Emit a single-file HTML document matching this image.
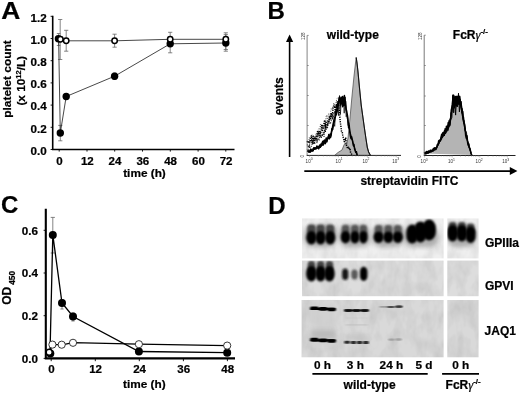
<!DOCTYPE html>
<html><head><meta charset="utf-8"><title>Figure</title>
<style>
html,body{margin:0;padding:0;background:#fff;}
body{width:520px;height:393px;overflow:hidden;font-family:"Liberation Sans",sans-serif;}
svg{display:block;filter:blur(0.32px)}
text{font-family:"Liberation Sans",sans-serif;font-weight:bold;fill:#000;stroke:#000;stroke-width:0.22px}
.pl{font-size:24px}
.tk{font-size:11px}
.ax{font-size:11.8px}
.lb{font-size:12px}
.tiny{font-size:5.3px;font-weight:normal;fill:#333;stroke:none}
</style></head><body>
<svg width="520" height="393" viewBox="0 0 520 393">
<defs>
<filter id="b1" x="-50%" y="-50%" width="200%" height="200%"><feGaussianBlur stdDeviation="1.3"/></filter>
<filter id="b2" x="-50%" y="-50%" width="200%" height="200%"><feGaussianBlur stdDeviation="2.2"/></filter>
<filter id="b0" x="-50%" y="-50%" width="200%" height="200%"><feGaussianBlur stdDeviation="0.7"/></filter>
<filter id="nz" x="0" y="0" width="100%" height="100%"><feTurbulence type="fractalNoise" baseFrequency="0.09 0.05" numOctaves="3" seed="4" result="t"/><feColorMatrix in="t" type="matrix" values="0 0 0 0 0  0 0 0 0 0  0 0 0 0 0  0.55 0.55 0 0 -0.42"/></filter>
<filter id="bt" x="-5%" y="-5%" width="110%" height="110%"><feGaussianBlur stdDeviation="0.35"/></filter>
</defs>
<rect width="520" height="393" fill="#fff"/>

<g id="A">
<text class="pl" transform="translate(1.2 18.8) scale(1.1 1)">A</text>
<path d="M60.2 19.5V59.5M58.1 19.5H62.3M58.1 59.5H62.3" stroke="#666" stroke-width="0.8" fill="none"/>
<path d="M58.6 33.5V45.5M56.8 33.5H60.4M56.8 45.5H60.4" stroke="#666" stroke-width="0.8" fill="none"/>
<path d="M66.2 30.3V51.2M64.1 30.3H68.3M64.1 51.2H68.3" stroke="#666" stroke-width="0.8" fill="none"/>
<path d="M114.6 34.2V47.2M112.5 34.2H116.7M112.5 47.2H116.7" stroke="#666" stroke-width="0.8" fill="none"/>
<path d="M170.2 32.3V52.8M168.1 32.3H172.3M168.1 52.8H172.3" stroke="#666" stroke-width="0.8" fill="none"/>
<path d="M225.8 32.8V51.2M223.7 32.8H227.9M223.7 51.2H227.9" stroke="#666" stroke-width="0.8" fill="none"/>
<path d="M225.8 34.6V49.5M223.7 34.6H227.9M223.7 49.5H227.9" stroke="#666" stroke-width="0.8" fill="none"/>
<path d="M60.3 125.4V140.8M58.2 125.4H62.4M58.2 140.8H62.4" stroke="#666" stroke-width="0.8" fill="none"/>
<path d="M114.6 73.0V79.5M112.8 73.0H116.4M112.8 79.5H116.4" stroke="#666" stroke-width="0.8" fill="none"/>
<path d="M58.6 38.8L60.3 133L66.2 96.5L114.6 76.2L170.2 43.8L225.8 43" stroke="#333" stroke-width="0.9" fill="none"/>
<path d="M60.2 39.2L66.2 40.8L114.6 40.8L170.2 39.3L225.8 39.3" stroke="#333" stroke-width="0.9" fill="none"/>
<circle cx="58.4" cy="38.8" r="3.7" fill="#000"/>
<circle cx="60.3" cy="133" r="3.7" fill="#000"/>
<circle cx="66.2" cy="96.5" r="3.7" fill="#000"/>
<circle cx="114.6" cy="76.2" r="3.7" fill="#000"/>
<circle cx="170.2" cy="43.8" r="3.7" fill="#000"/>
<circle cx="225.8" cy="43" r="3.7" fill="#000"/>
<circle cx="60.4" cy="39.2" r="2.7" fill="#fff" stroke="#000" stroke-width="1.5"/>
<circle cx="66.2" cy="40.8" r="2.7" fill="#fff" stroke="#000" stroke-width="1.5"/>
<circle cx="114.6" cy="40.8" r="2.7" fill="#fff" stroke="#000" stroke-width="1.5"/>
<circle cx="170.2" cy="39.2" r="2.7" fill="#fff" stroke="#000" stroke-width="1.5"/>
<circle cx="225.8" cy="39.2" r="2.7" fill="#fff" stroke="#000" stroke-width="1.5"/>
<path d="M52.7 15.8V150.2M51.9 149.5H234.5" stroke="#000" stroke-width="1.6" fill="none"/>
<path d="M50.6 149.5H52.5M50.6 127.3H52.5M50.6 105.1H52.5M50.6 82.9H52.5M50.6 60.7H52.5M50.6 38.5H52.5M50.6 16.3H52.5M59.2 149V151.6M87.0 149V151.6M114.7 149V151.6M142.5 149V151.6M170.3 149V151.6M198.1 149V151.6M225.8 149V151.6" stroke="#000" stroke-width="0.9" fill="none"/>
<text class="tk" transform="translate(46.7 154.8) scale(1.06 1)" text-anchor="end">0.0</text>
<text class="tk" transform="translate(46.7 132.6) scale(1.06 1)" text-anchor="end">0.2</text>
<text class="tk" transform="translate(46.7 110.4) scale(1.06 1)" text-anchor="end">0.4</text>
<text class="tk" transform="translate(46.7 88.2) scale(1.06 1)" text-anchor="end">0.6</text>
<text class="tk" transform="translate(46.7 66.0) scale(1.06 1)" text-anchor="end">0.8</text>
<text class="tk" transform="translate(46.7 43.8) scale(1.06 1)" text-anchor="end">1.0</text>
<text class="tk" transform="translate(46.7 21.6) scale(1.06 1)" text-anchor="end">1.2</text>
<text class="tk" transform="translate(59.5 165.3) scale(1.05 1)" text-anchor="middle">0</text>
<text class="tk" transform="translate(87.3 165.3) scale(1.05 1)" text-anchor="middle">12</text>
<text class="tk" transform="translate(115.0 165.3) scale(1.05 1)" text-anchor="middle">24</text>
<text class="tk" transform="translate(142.8 165.3) scale(1.05 1)" text-anchor="middle">36</text>
<text class="tk" transform="translate(170.6 165.3) scale(1.05 1)" text-anchor="middle">48</text>
<text class="tk" transform="translate(198.4 165.3) scale(1.05 1)" text-anchor="middle">60</text>
<text class="tk" transform="translate(226.1 165.3) scale(1.05 1)" text-anchor="middle">72</text>
<text class="ax" x="123.2" y="177.2">time (h)</text>
<text class="ax" transform="translate(11.2 117.8) rotate(-90)" textLength="77.5" lengthAdjust="spacingAndGlyphs">platelet count</text>
<text class="ax" transform="translate(25.2 105.6) rotate(-90)">(x 10<tspan font-size="7.5" dy="-4">12</tspan><tspan dy="4">/L)</tspan></text>
</g>
<g id="C">
<text class="pl" x="1" y="213.4">C</text>
<path d="M52.8 217.4V253.0M50.7 217.4H54.9M50.7 253.0H54.9" stroke="#666" stroke-width="0.8" fill="none"/>
<path d="M62.0 299.5V309.0M60.4 299.5H63.6M60.4 309.0H63.6" stroke="#666" stroke-width="0.8" fill="none"/>
<path d="M73.0 313.0V321.0M71.4 313.0H74.6M71.4 321.0H74.6" stroke="#666" stroke-width="0.8" fill="none"/>
<path d="M50 353.5L52.8 234.9L62 303L73 316.5L138.9 351.5L227.2 352.7" stroke="#000" stroke-width="1.3" fill="none"/>
<path d="M49.5 352L52.6 344.4L62 344.8L73 342.6L138.9 344.2L227.2 345.6" stroke="#000" stroke-width="1.3" fill="none"/>
<circle cx="50.3" cy="353.5" r="4" fill="#000"/>
<circle cx="52.8" cy="234.9" r="4" fill="#000"/>
<circle cx="62" cy="303" r="4" fill="#000"/>
<circle cx="73" cy="316.5" r="4" fill="#000"/>
<circle cx="138.9" cy="351.5" r="4" fill="#000"/>
<circle cx="227.2" cy="352.7" r="4" fill="#000"/>
<circle cx="49.2" cy="352.3" r="3.0" fill="#fff" stroke="#000" stroke-width="1.4"/>
<circle cx="52.4" cy="344.6" r="3.6" fill="#fff" stroke="#222" stroke-width="0.9"/>
<circle cx="61.7" cy="344.7" r="3.6" fill="#fff" stroke="#222" stroke-width="0.9"/>
<circle cx="73" cy="342.8" r="3.6" fill="#fff" stroke="#222" stroke-width="0.9"/>
<circle cx="138.9" cy="344.2" r="3.6" fill="#fff" stroke="#222" stroke-width="0.9"/>
<circle cx="227.2" cy="345.6" r="3.6" fill="#fff" stroke="#222" stroke-width="0.9"/>
<path d="M45.8 208.8V359.4M44.8 358.4H235" stroke="#000" stroke-width="2.1" fill="none"/>
<path d="M43.6 358.4H45.8M43.6 315.7H45.8M43.6 273.0H45.8M43.6 230.3H45.8M51.2 358.4V361.2M95.3 358.4V361.2M139.3 358.4V361.2M183.4 358.4V361.2M227.4 358.4V361.2" stroke="#000" stroke-width="0.9" fill="none"/>
<text class="tk" transform="translate(37.9 362.6) scale(1.06 1)" text-anchor="end">0.0</text>
<text class="tk" transform="translate(37.9 319.9) scale(1.06 1)" text-anchor="end">0.2</text>
<text class="tk" transform="translate(37.9 277.2) scale(1.06 1)" text-anchor="end">0.4</text>
<text class="tk" transform="translate(37.9 234.5) scale(1.06 1)" text-anchor="end">0.6</text>
<text class="tk" transform="translate(51.5 373.3) scale(1.05 1)" text-anchor="middle">0</text>
<text class="tk" transform="translate(95.6 373.3) scale(1.05 1)" text-anchor="middle">12</text>
<text class="tk" transform="translate(139.6 373.3) scale(1.05 1)" text-anchor="middle">24</text>
<text class="tk" transform="translate(183.7 373.3) scale(1.05 1)" text-anchor="middle">36</text>
<text class="tk" transform="translate(227.7 373.3) scale(1.05 1)" text-anchor="middle">48</text>
<text class="ax" x="123" y="388.4">time (h)</text>
<text class="lb" transform="translate(11 304.8) rotate(-90)">OD</text>
<text transform="translate(14.6 284.8) rotate(-90)" font-size="8.3">450</text>
</g>
<g id="B">
<text class="pl" x="267.5" y="18.8">B</text>
<text class="lb" x="326.8" y="38.5">wild-type</text>
<text class="lb" x="452.8" y="39">FcR<tspan font-family="Liberation Serif" font-style="italic" font-weight="normal" font-size="12.5">γ</tspan><tspan font-size="8" dy="-4.9">-/-</tspan></text>
<text class="lb" transform="translate(282.6 115.3) rotate(-90)">events</text>
<text class="lb" x="360.4" y="184.6">streptavidin FITC</text>
<path d="M289.6 157V40" stroke="#000" stroke-width="1.6"/><path d="M289.6 34.4L293.2 42H286L289.6 34.4Z" fill="#000"/>
<path d="M304.3 171.1H511" stroke="#000" stroke-width="1.6"/><path d="M517.4 171.1L509.8 175.1V167.1Z" fill="#000"/>
<path d="M334.6 155.4L338.0 152.5L342.0 150.0L344.0 145.0L345.2 143.0L346.5 145.5L348.0 138.0L350.0 118.0L352.0 96.0L354.0 76.0L355.4 64.0L356.2 57.5L357.0 63.0L358.0 72.0L359.5 88.0L361.2 105.0L363.0 118.0L364.4 128.0L366.0 139.0L367.3 147.3L368.6 152.0L370.5 155.4Z" fill="#b4b4b4" stroke="#444" stroke-width="0.7"/>
<path d="M356.2 57.5L357 63L358 72L359.5 88L361.2 105L363 118L364.4 128L366 139L367.3 147.3L368.6 152L370.5 155.4" fill="none" stroke="#111" stroke-width="1.1"/>
<path d="M307.2 141.0L307.9 142.8L308.6 141.0L309.3 142.3L310.0 142.0L310.7 136.9L311.4 135.8L312.1 142.6L312.8 136.9L313.5 136.2L314.2 142.8L314.9 137.3L315.6 140.0L316.3 135.5L317.0 136.2L317.7 130.4L318.4 134.4L319.1 135.9L319.8 131.6L320.5 133.0L321.2 131.4L321.9 124.5L322.6 130.4L323.3 127.7L324.0 123.7L324.7 120.0L325.4 127.3L326.1 122.3L326.8 123.6L327.5 124.1L328.2 121.4L328.9 122.4L329.6 115.9L330.3 118.8L331.0 114.1L331.7 117.9L332.4 116.1L333.1 107.0L333.8 106.1L334.5 105.7L335.2 111.9L335.9 105.5L336.6 106.2L337.3 101.8L338.0 103.9L338.7 105.6L339.4 110.7L340.1 120.3L340.8 125.6L341.5 131.4L342.2 131.8L342.9 136.6L343.6 138.2L344.3 141.7L345.0 140.4L345.7 137.9L346.4 145.1L347.1 147.2L347.8 148.1L348.5 147.4L349.2 149.4L349.9 148.2L350.6 152.6L351.3 153.5L352.0 154.9" fill="none" stroke="#000" stroke-width="1.5" stroke-dasharray="1.2 1.1" stroke-linejoin="round"/>
<path d="M307.2 144.5L307.9 146.7L308.6 146.2L309.3 146.9L310.0 141.8L310.7 141.6L311.4 140.4L312.1 140.5L312.8 143.9L313.5 138.7L314.2 141.4L314.9 138.1L315.6 137.8L316.3 138.1L317.0 141.0L317.7 138.0L318.4 131.2L319.1 133.0L319.8 130.8L320.5 137.3L321.2 135.8L321.9 134.9L322.6 134.1L323.3 132.2L324.0 133.2L324.7 130.6L325.4 124.2L326.1 129.1L326.8 124.3L327.5 125.9L328.2 122.9L328.9 120.5L329.6 118.6L330.3 118.1L331.0 115.8L331.7 112.7L332.4 118.5L333.1 117.0L333.8 117.6L334.5 113.4L335.2 110.8L335.9 111.6L336.6 104.3L337.3 108.6" fill="none" stroke="#000" stroke-width="1.1" stroke-dasharray="1 1.2" stroke-linejoin="round"/>
<path d="M307.2 151.1L307.9 150.9L308.6 150.1L309.3 145.1L310.0 147.5L310.7 146.1L311.4 146.2L312.1 143.2L312.8 143.1L313.5 144.2L314.2 142.2L314.9 143.2L315.6 139.0L316.3 138.4L317.0 142.6L317.7 139.2L318.4 139.1L319.1 140.4L319.8 136.0L320.5 132.1L321.2 138.5L321.9 135.7L322.6 135.4L323.3 134.0L324.0 136.4L324.7 129.3L325.4 132.2L326.1 127.2L326.8 128.2L327.5 128.0L328.2 123.4L328.9 120.0L329.6 122.7L330.3 124.0L331.0 121.6L331.7 119.0L332.4 119.7L333.1 113.8L333.8 112.5L334.5 112.7L335.2 116.4L335.9 109.1L336.6 107.1L337.3 105.8" fill="none" stroke="#000" stroke-width="1.1" stroke-dasharray="0.9 1.3" stroke-linejoin="round"/>
<path d="M307.2 141.6L307.9 141.6L308.6 142.7L309.3 137.5L310.0 140.4L310.7 142.1L311.4 141.9L312.1 134.6L312.8 138.6L313.5 137.8L314.2 136.2L314.9 140.2L315.6 134.9L316.3 133.2L317.0 137.2L317.7 133.2L318.4 129.0L319.1 128.3L319.8 129.3L320.5 124.1L321.2 128.8L321.9 129.2L322.6 125.1L323.3 128.2L324.0 128.0L324.7 123.2L325.4 123.5L326.1 116.7L326.8 115.0L327.5 123.2L328.2 115.1L328.9 113.3L329.6 119.0L330.3 116.3L331.0 108.9L331.7 109.7L332.4 107.7L333.1 106.7L333.8 102.8L334.5 106.7L335.2 103.3L335.9 103.1L336.6 99.8L337.3 97.9" fill="none" stroke="#000" stroke-width="0.8" stroke-dasharray="0.8 1.6" stroke-linejoin="round"/>
<path d="M307.2 150.9L307.8 151.4L308.4 151.6L309.0 152.2L309.6 151.6L310.2 152.2L310.8 149.1L311.4 150.2L312.0 151.4L312.6 150.2L313.2 150.8L313.8 147.7L314.4 148.7L315.0 147.7L315.6 148.6L316.2 148.5L316.8 146.1L317.4 146.6L318.0 146.6L318.6 148.8L319.2 147.8L319.8 144.9L320.4 147.2L321.0 143.9L321.6 145.7L322.2 142.7L322.8 141.3L323.4 145.0L324.0 140.8L324.6 140.1L325.2 143.7L325.8 142.5L326.4 138.2L327.0 141.7L327.6 138.2L328.2 138.4L328.8 134.4L329.4 138.7L330.0 136.2L330.6 137.4L331.2 135.2L331.8 129.2L332.4 127.9L333.0 124.7L333.6 121.8L334.2 118.6L334.8 117.5L335.4 116.9L336.0 110.0L336.6 112.0L337.2 106.9L337.8 103.9L338.4 104.6L339.0 98.2L339.6 97.0L340.2 100.9L340.8 102.1L341.4 97.2L342.0 103.3L342.6 96.5L343.2 101.3L343.8 101.7L344.4 95.5L345.0 100.5L345.6 101.7L346.2 109.3L346.8 111.8L347.4 115.1L348.0 119.2L348.6 127.7L349.2 125.2L349.8 132.0L350.4 136.1L351.0 138.6L351.6 136.7L352.2 139.1L352.8 142.3L353.4 145.5L354.0 144.5L354.6 149.1L355.2 150.8L355.8 152.5L356.4 151.7L357.0 155.1L357.6 154.7" fill="none" stroke="#000" stroke-width="1.5" stroke-linejoin="round"/>
<path d="M307.2 150.5L308.1 150.6L309.0 150.3L309.9 150.7L310.8 150.6L311.7 149.9L312.6 149.3L313.5 148.9L314.4 148.1L315.3 148.2L316.2 147.7L317.1 147.2L318.0 147.0L318.9 146.6L319.8 146.3L320.7 144.9L321.6 144.2L322.5 144.1L323.4 142.4L324.3 141.2L325.2 140.2L326.1 138.7L327.0 138.0L327.9 137.3L328.8 135.3L329.7 134.4L330.6 133.8L331.5 129.9L332.4 128.6L333.3 124.1L334.2 120.2L335.1 115.6L336.0 113.3L336.9 109.3L337.8 104.9L338.7 100.8L339.6 97.4L340.5 100.8L341.4 98.4L342.3 98.4L343.2 97.8L344.1 98.4L345.0 97.5L345.9 103.8L346.8 113.5L347.7 118.4L348.6 124.1L349.5 128.0L350.4 132.1L351.3 135.8L352.2 139.6L353.1 143.0L354.0 145.4L354.9 148.2L355.8 150.8L356.7 153.4L357.6 155.2L357.6 155.4L356.7 154.3L355.8 152.3L354.9 150.1L354.0 147.4L353.1 144.3L352.2 141.4L351.3 138.9L350.4 134.8L349.5 131.6L348.6 128.3L347.7 122.1L346.8 118.6L345.9 111.5L345.0 106.4L344.1 105.8L343.2 107.0L342.3 107.8L341.4 103.9L340.5 108.2L339.6 101.5L338.7 106.5L337.8 111.4L336.9 114.5L336.0 116.2L335.1 121.4L334.2 123.6L333.3 129.4L332.4 131.3L331.5 133.9L330.6 136.3L329.7 137.0L328.8 137.8L327.9 139.7L327.0 140.6L326.1 141.3L325.2 142.7L324.3 143.2L323.4 144.7L322.5 145.7L321.6 146.4L320.7 146.8L319.8 147.7L318.9 147.9L318.0 148.6L317.1 149.0L316.2 149.2L315.3 149.5L314.4 150.0L313.5 150.2L312.6 150.7L311.7 151.2L310.8 151.5L309.9 151.9L309.0 151.8L308.1 151.6L307.2 151.5Z" fill="#000"/>
<path d="M307.2 149.3L308.1 151.3L309.1 149.8L310.0 151.6L311.0 149.3L311.9 150.6L312.9 148.3L313.8 150.0L314.8 147.4L315.7 149.5L316.7 147.2L317.6 148.4L318.6 145.8L319.5 147.3L320.5 145.0L321.4 146.0L322.4 142.6L323.3 144.9L324.3 140.2L325.2 141.9L326.2 137.5L327.1 140.2L328.1 136.2L329.0 137.9L330.0 133.3L330.9 134.1L331.9 128.1L332.8 129.8L333.8 120.8L334.7 126.4L335.7 112.0L336.6 115.2L337.6 102.6L338.5 115.6L339.5 95.5L340.4 114.4L341.4 99.7L342.3 102.5L343.3 98.4L344.2 113.2L345.2 96.9L346.1 116.6L347.1 115.2L348.0 125.4L349.0 122.8L349.9 131.9L350.9 134.3L351.8 139.4L352.8 140.8L353.7 146.7L354.7 147.5L355.6 151.8L356.6 152.6L357.5 155.4" fill="none" stroke="#000" stroke-width="0.7" stroke-linejoin="miter"/>
<path d="M307.1 35.4V155.4" stroke="#666" stroke-width="0.8" fill="none"/><path d="M306.7 155.4H401" stroke="#222" stroke-width="1" fill="none"/>
<path d="M307.1 35.4h1.6M307.1 65.5h1.6M307.1 95.5h1.6M307.1 125.5h1.6" stroke="#666" stroke-width="0.7"/>
<path d="M318.3 155.4v1.2M323.4 155.4v1.2M327.0 155.4v1.2M329.8 155.4v1.2M332.1 155.4v1.2M334.0 155.4v1.2M335.7 155.4v1.2M337.2 155.4v1.2M309.6 155.4v2M347.2 155.4v1.2M352.3 155.4v1.2M355.9 155.4v1.2M358.7 155.4v1.2M361.0 155.4v1.2M362.9 155.4v1.2M364.6 155.4v1.2M366.1 155.4v1.2M338.5 155.4v2M376.1 155.4v1.2M381.2 155.4v1.2M384.8 155.4v1.2M387.6 155.4v1.2M389.9 155.4v1.2M391.8 155.4v1.2M393.5 155.4v1.2M395.0 155.4v1.2M367.4 155.4v2M396.3 155.4v2" stroke="#888" stroke-width="0.5"/>
<text class="tiny" transform="translate(305.6 163) scale(0.86 1)" font-size="6.2">10<tspan font-size="4" dy="-2.6">0</tspan></text>
<text class="tiny" transform="translate(335.6 163) scale(0.86 1)" font-size="6.2">10<tspan font-size="4" dy="-2.6">1</tspan></text>
<text class="tiny" transform="translate(362.4 163) scale(0.86 1)" font-size="6.2">10<tspan font-size="4" dy="-2.6">2</tspan></text>
<text class="tiny" transform="translate(392.2 163) scale(0.86 1)" font-size="6.2">10<tspan font-size="4" dy="-2.6">3</tspan></text>
<text class="tiny" transform="translate(304.3 157.6) rotate(-90) scale(0.86 1)" font-size="6.2">0</text>
<text class="tiny" transform="translate(304.6 40) rotate(-90) scale(0.86 1)" font-size="6.2">128</text>
<path d="M424.3 153.4L424.9 153.0L425.5 152.3L426.1 153.6L426.7 151.5L427.3 152.4L427.9 153.1L428.5 151.0L429.1 151.9L429.7 151.9L430.3 150.2L430.9 150.7L431.5 151.3L432.1 150.3L432.7 150.8L433.3 148.8L433.9 148.6L434.5 147.8L435.1 148.6L435.7 149.6L436.3 147.7L436.9 147.2L437.5 144.5L438.1 144.9L438.7 140.8L439.3 140.4L439.9 141.1L440.5 140.2L441.1 137.4L441.7 134.3L442.3 134.3L442.9 132.9L443.5 132.4L444.1 134.7L444.7 130.2L445.3 133.4L445.9 132.3L446.5 126.2L447.1 127.0L447.7 126.5L448.3 122.5L448.9 123.7L449.5 125.4L450.1 119.4L450.7 118.3L451.3 110.2L451.9 107.6L452.5 104.4L453.1 95.1L453.7 95.5L454.3 98.4L454.9 100.5L455.5 96.7L456.1 96.4L456.7 98.0L457.3 99.8L457.9 96.4L458.5 96.0L459.1 98.0L459.7 96.6L460.3 101.5L460.9 101.8L461.5 107.3L462.1 112.8L462.7 111.5L463.3 118.6L463.9 122.8L464.5 123.8L465.1 128.1L465.7 135.3L466.3 138.1L466.9 135.7L467.5 141.4L468.1 145.0L468.7 144.2L469.3 147.8L469.9 148.3L470.5 151.1L471.1 153.5L471.7 155.1Z" fill="#b4b4b4" stroke="none"/>
<path d="M424.3 153.4L424.9 153.0L425.5 152.3L426.1 153.6L426.7 151.5L427.3 152.4L427.9 153.1L428.5 151.0L429.1 151.9L429.7 151.9L430.3 150.2L430.9 150.7L431.5 151.3L432.1 150.3L432.7 150.8L433.3 148.8L433.9 148.6L434.5 147.8L435.1 148.6L435.7 149.6L436.3 147.7L436.9 147.2L437.5 144.5L438.1 144.9L438.7 140.8L439.3 140.4L439.9 141.1L440.5 140.2L441.1 137.4L441.7 134.3L442.3 134.3L442.9 132.9L443.5 132.4L444.1 134.7L444.7 130.2L445.3 133.4L445.9 132.3L446.5 126.2L447.1 127.0L447.7 126.5L448.3 122.5L448.9 123.7L449.5 125.4L450.1 119.4L450.7 118.3L451.3 110.2L451.9 107.6L452.5 104.4L453.1 95.1L453.7 95.5L454.3 98.4L454.9 100.5L455.5 96.7L456.1 96.4L456.7 98.0L457.3 99.8L457.9 96.4L458.5 96.0L459.1 98.0L459.7 96.6L460.3 101.5L460.9 101.8L461.5 107.3L462.1 112.8L462.7 111.5L463.3 118.6L463.9 122.8L464.5 123.8L465.1 128.1L465.7 135.3L466.3 138.1L466.9 135.7L467.5 141.4L468.1 145.0L468.7 144.2L469.3 147.8L469.9 148.3L470.5 151.1L471.1 153.5L471.7 155.1" fill="none" stroke="#000" stroke-width="1.6" stroke-linejoin="round"/>
<path d="M424.3 153.3L425.2 153.1L426.1 152.5L427.0 152.1L427.9 151.7L428.8 151.4L429.7 151.0L430.6 151.1L431.5 150.2L432.4 149.8L433.3 149.8L434.2 149.2L435.1 147.9L436.0 147.4L436.9 146.1L437.8 144.3L438.7 141.8L439.6 140.7L440.5 138.2L441.4 137.1L442.3 134.5L443.2 134.0L444.1 132.2L445.0 130.7L445.9 130.0L446.8 127.5L447.7 125.7L448.6 123.7L449.5 121.6L450.4 120.1L451.3 112.4L452.2 102.8L453.1 96.6L454.0 99.7L454.9 98.9L455.8 98.0L456.7 96.4L457.6 96.5L458.5 95.2L459.4 97.3L460.3 99.1L461.2 104.8L462.1 109.5L463.0 115.6L463.9 121.4L464.8 126.3L465.7 131.9L466.6 136.5L467.5 139.6L468.4 143.9L469.3 147.3L470.2 150.4L471.1 153.1L471.1 154.6L470.2 152.1L469.3 149.1L468.4 146.1L467.5 142.2L466.6 138.7L465.7 134.7L464.8 131.6L463.9 127.1L463.0 122.3L462.1 117.1L461.2 112.1L460.3 106.5L459.4 104.8L458.5 104.9L457.6 103.8L456.7 107.6L455.8 105.6L454.9 108.2L454.0 108.8L453.1 105.0L452.2 111.9L451.3 118.9L450.4 123.4L449.5 126.4L448.6 129.3L447.7 130.6L446.8 132.1L445.9 132.5L445.0 134.4L444.1 136.0L443.2 137.2L442.3 138.1L441.4 140.2L440.5 141.4L439.6 142.8L438.7 144.9L437.8 146.5L436.9 148.0L436.0 149.7L435.1 150.1L434.2 150.9L433.3 151.4L432.4 151.8L431.5 152.2L430.6 152.6L429.7 153.0L428.8 153.3L427.9 153.6L427.0 153.9L426.1 154.2L425.2 154.6L424.3 154.8Z" fill="#000"/>
<path d="M424.3 152.7L425.2 153.8L426.2 152.0L427.1 153.1L428.1 151.4L429.0 152.6L430.0 150.8L430.9 151.7L431.9 149.8L432.8 150.8L433.8 148.6L434.7 149.6L435.7 147.5L436.6 147.6L437.6 143.8L438.5 144.3L439.5 140.0L440.4 139.9L441.4 136.3L442.3 137.9L443.3 132.4L444.2 136.0L445.2 128.1L446.1 132.1L447.1 126.8L448.0 130.6L449.0 120.4L449.9 125.4L450.9 112.8L451.8 111.8L452.8 95.3L453.7 112.8L454.7 96.8L455.6 115.1L456.6 96.7L457.5 106.8L458.5 93.2L459.4 111.9L460.4 99.4L461.3 108.3L462.3 108.4L463.2 119.4L464.2 120.7L465.1 130.3L466.1 132.3L467.0 140.2L468.0 141.7L468.9 147.2L469.9 148.7L470.8 153.1L471.8 154.6" fill="none" stroke="#000" stroke-width="0.95" stroke-linejoin="miter"/>
<path d="M424.8 153.3L426.1 154.1L427.4 152.2L428.7 153.2L430.0 151.4L431.3 152.3L432.6 150.2L433.9 151.1L435.2 148.7L436.5 149.3L437.8 145.1L439.1 144.2L440.4 138.7L441.7 139.4L443.0 134.2L444.3 135.5L445.6 129.7L446.9 131.7L448.2 126.0L449.5 127.0L450.8 120.1L452.1 117.3L453.4 96.9L454.7 104.2L456.0 97.6L457.3 102.6L458.6 95.3L459.9 101.8L461.2 101.6L462.5 117.0L463.8 116.8L465.1 130.5L466.4 131.6L467.7 141.1L469.0 143.8L470.3 150.5L471.6 153.0" fill="none" stroke="#000" stroke-width="0.6" stroke-linejoin="miter"/>
<path d="M424.2 35.2V155.5" stroke="#555" stroke-width="0.8" fill="none"/><path d="M423.8 155.5H515.5" stroke="#222" stroke-width="1" fill="none"/>
<path d="M424.2 35.2h1.6M424.2 65.5h1.6M424.2 96h1.6M424.2 125.5h1.6" stroke="#666" stroke-width="0.7"/>
<path d="M432.9 155.5v1.2M437.8 155.5v1.2M441.2 155.5v1.2M443.9 155.5v1.2M446.1 155.5v1.2M447.9 155.5v1.2M449.5 155.5v1.2M450.9 155.5v1.2M424.6 155.5v2M460.5 155.5v1.2M465.4 155.5v1.2M468.8 155.5v1.2M471.5 155.5v1.2M473.7 155.5v1.2M475.5 155.5v1.2M477.1 155.5v1.2M478.5 155.5v1.2M452.2 155.5v2M488.1 155.5v1.2M493.0 155.5v1.2M496.4 155.5v1.2M499.1 155.5v1.2M501.3 155.5v1.2M503.1 155.5v1.2M504.7 155.5v1.2M506.1 155.5v1.2M479.8 155.5v2M507.4 155.5v2" stroke="#888" stroke-width="0.5"/>
<text class="tiny" transform="translate(420.6 163.2) scale(0.86 1)" font-size="6.2">10<tspan font-size="4" dy="-2.6">0</tspan></text>
<text class="tiny" transform="translate(448 163.2) scale(0.86 1)" font-size="6.2">10<tspan font-size="4" dy="-2.6">1</tspan></text>
<text class="tiny" transform="translate(475.6 163.2) scale(0.86 1)" font-size="6.2">10<tspan font-size="4" dy="-2.6">2</tspan></text>
<text class="tiny" transform="translate(502.2 163.2) scale(0.86 1)" font-size="6.2">10<tspan font-size="4" dy="-2.6">3</tspan></text>
<text class="tiny" transform="translate(421.4 157.8) rotate(-90) scale(0.86 1)" font-size="6.2">0</text>
<text class="tiny" transform="translate(421.6 40) rotate(-90) scale(0.86 1)" font-size="6.2">128</text>
</g>
<g id="D">
<text class="pl" x="268.2" y="213.9">D</text>
<rect x="302" y="218.4" width="141.6" height="40" fill="#efefef"/>
<rect x="447.3" y="218.4" width="31.3" height="40" fill="#efefef"/>
<rect x="302" y="260.6" width="141.6" height="35.6" fill="#dddddd"/>
<rect x="447.3" y="260.6" width="31.3" height="35.6" fill="#dddddd"/>
<rect x="301.5" y="300" width="142.1" height="57.3" fill="#d9d9d9"/>
<rect x="447.3" y="300" width="31.3" height="57.3" fill="#d9d9d9"/>
<rect x="302" y="218.4" width="176.6" height="139" fill="#000" filter="url(#nz)" opacity="0.2" clip-path="url(#call)"/>
<clipPath id="call"><rect x="302" y="218.4" width="141.6" height="40"/><rect x="447.3" y="218.4" width="31.3" height="40"/><rect x="302" y="260.6" width="141.6" height="35.6"/><rect x="447.3" y="260.6" width="31.3" height="35.6"/><rect x="301.5" y="300" width="142.1" height="57.3"/><rect x="447.3" y="300" width="31.3" height="57.3"/></clipPath>
<clipPath id="c1"><rect x="302" y="218.4" width="141.6" height="40"/><rect x="447.3" y="218.4" width="31.3" height="40"/></clipPath>
<g clip-path="url(#c1)">
<rect x="303.8" y="225.0" width="34.0" height="22.0" rx="8.0" ry="10.4" fill="#777" opacity="0.5" filter="url(#b2)"/>
<rect x="338.6" y="225.0" width="32.0" height="22.0" rx="8.0" ry="10.4" fill="#777" opacity="0.5" filter="url(#b2)"/>
<rect x="371.7" y="225.0" width="33.0" height="22.0" rx="8.0" ry="10.4" fill="#777" opacity="0.5" filter="url(#b2)"/>
<rect x="404.0" y="225.0" width="34.0" height="22.0" rx="8.0" ry="10.4" fill="#777" opacity="0.5" filter="url(#b2)"/>
<rect x="446.6" y="225.0" width="30.0" height="22.0" rx="8.0" ry="10.4" fill="#777" opacity="0.5" filter="url(#b2)"/>
<rect x="307.2" y="224.5" width="8.4" height="11.5" rx="3.0" ry="3.9" fill="#3a3a3a" opacity="0.9" filter="url(#b1)"/>
<rect x="306.2" y="231.0" width="10.4" height="13.4" rx="5.2" ry="6.7" fill="#000" opacity="1" filter="url(#b1)"/>
<rect x="316.4" y="224.5" width="8.4" height="11.5" rx="3.0" ry="3.9" fill="#3a3a3a" opacity="0.9" filter="url(#b1)"/>
<rect x="315.4" y="231.0" width="10.4" height="13.4" rx="5.2" ry="6.7" fill="#000" opacity="1" filter="url(#b1)"/>
<rect x="326.0" y="224.5" width="8.4" height="11.5" rx="3.0" ry="3.9" fill="#3a3a3a" opacity="0.9" filter="url(#b1)"/>
<rect x="325.0" y="231.0" width="10.4" height="13.4" rx="5.2" ry="6.7" fill="#000" opacity="1" filter="url(#b1)"/>
<rect x="341.7" y="224.8" width="7.6" height="11.2" rx="3.0" ry="3.9" fill="#444" opacity="0.85" filter="url(#b1)"/>
<rect x="340.7" y="231.0" width="9.6" height="12.4" rx="4.8" ry="6.2" fill="#000" opacity="1" filter="url(#b1)"/>
<rect x="351.1" y="224.8" width="7.6" height="11.2" rx="3.0" ry="3.9" fill="#444" opacity="0.85" filter="url(#b1)"/>
<rect x="350.3" y="231.0" width="9.2" height="12.4" rx="4.6" ry="6.0" fill="#000" opacity="1" filter="url(#b1)"/>
<rect x="359.6" y="224.8" width="7.6" height="11.2" rx="3.0" ry="3.9" fill="#444" opacity="0.85" filter="url(#b1)"/>
<rect x="359.2" y="231.0" width="8.4" height="12.4" rx="4.2" ry="5.5" fill="#000" opacity="1" filter="url(#b1)"/>
<rect x="374.6" y="225.0" width="8.0" height="11.0" rx="3.0" ry="3.9" fill="#444" opacity="0.85" filter="url(#b1)"/>
<rect x="373.5" y="231.4" width="10.2" height="11.6" rx="5.1" ry="5.8" fill="#000" opacity="1" filter="url(#b1)"/>
<rect x="384.3" y="225.0" width="8.0" height="11.0" rx="3.0" ry="3.9" fill="#444" opacity="0.85" filter="url(#b1)"/>
<rect x="383.2" y="231.4" width="10.2" height="11.6" rx="5.1" ry="5.8" fill="#000" opacity="1" filter="url(#b1)"/>
<rect x="393.8" y="225.0" width="8.0" height="11.0" rx="3.0" ry="3.9" fill="#444" opacity="0.85" filter="url(#b1)"/>
<rect x="392.7" y="231.4" width="10.2" height="11.6" rx="5.1" ry="5.8" fill="#000" opacity="1" filter="url(#b1)"/>
<rect x="406.4" y="224.5" width="11.5" height="18.9" rx="5.8" ry="7.5" fill="#000" opacity="1" filter="url(#b1)"/>
<rect x="414.2" y="221.5" width="12.5" height="20.9" rx="6.2" ry="8.1" fill="#000" opacity="1" filter="url(#b1)"/>
<rect x="422.4" y="219.3" width="13.5" height="21.1" rx="6.8" ry="8.8" fill="#000" opacity="1" filter="url(#b1)"/>
<rect x="448.6" y="222.0" width="8.0" height="11.0" rx="3.0" ry="3.9" fill="#333" opacity="0.9" filter="url(#b1)"/>
<rect x="447.2" y="225.0" width="10.8" height="16.5" rx="5.4" ry="7.0" fill="#000" opacity="1" filter="url(#b1)"/>
<rect x="457.8" y="222.0" width="8.0" height="11.0" rx="3.0" ry="3.9" fill="#333" opacity="0.9" filter="url(#b1)"/>
<rect x="456.4" y="225.0" width="10.8" height="16.5" rx="5.4" ry="7.0" fill="#000" opacity="1" filter="url(#b1)"/>
<rect x="466.6" y="223.5" width="8.0" height="11.0" rx="3.0" ry="3.9" fill="#333" opacity="0.9" filter="url(#b1)"/>
<rect x="465.6" y="226.5" width="10.0" height="16.5" rx="5.0" ry="6.5" fill="#000" opacity="1" filter="url(#b1)"/>
</g>
<clipPath id="c2"><rect x="302" y="260.6" width="141.6" height="35.6"/></clipPath>
<g clip-path="url(#c2)">
<rect x="307.6" y="261.0" width="7.6" height="11.0" rx="3.0" ry="3.9" fill="#333" opacity="0.9" filter="url(#b1)"/>
<rect x="306.2" y="266.0" width="10.4" height="15.4" rx="5.2" ry="6.8" fill="#000" opacity="1" filter="url(#b1)"/>
<rect x="316.8" y="261.0" width="7.6" height="11.0" rx="3.0" ry="3.9" fill="#333" opacity="0.9" filter="url(#b1)"/>
<rect x="315.4" y="266.0" width="10.4" height="15.4" rx="5.2" ry="6.8" fill="#000" opacity="1" filter="url(#b1)"/>
<rect x="325.7" y="261.0" width="7.6" height="11.0" rx="3.0" ry="3.9" fill="#333" opacity="0.9" filter="url(#b1)"/>
<rect x="324.3" y="266.0" width="10.4" height="15.4" rx="5.2" ry="6.8" fill="#000" opacity="1" filter="url(#b1)"/>
<rect x="342.1" y="268.4" width="6.2" height="11.6" rx="3.1" ry="4.0" fill="#111" opacity="0.95" filter="url(#b1)"/>
<rect x="351.3" y="269.4" width="6.4" height="10.0" rx="3.2" ry="4.2" fill="#3a3a3a" opacity="0.8" filter="url(#b1)"/>
<rect x="360.0" y="266.8" width="7.4" height="14.2" rx="3.7" ry="4.8" fill="#000" opacity="1" filter="url(#b1)"/>
</g>
<filter id="b3" x="-20%" y="-150%" width="140%" height="400%"><feGaussianBlur stdDeviation="0.9 0.75"/></filter>
<rect x="310.5" y="303" width="25" height="42" fill="#cfcfcf" opacity="0.7" filter="url(#b2)"/>
<rect x="311" y="330" width="24.5" height="9" fill="#aaa" opacity="0.55" filter="url(#b2)"/>
<rect x="345" y="334" width="23" height="7" fill="#bbb" opacity="0.45" filter="url(#b2)"/>
<rect x="310.3" y="306.5" width="8.1" height="3.6" rx="1.2" fill="#000" opacity="1" filter="url(#b3)"/><rect x="319.0" y="307.1" width="8.1" height="3.6" rx="1.2" fill="#000" opacity="1" filter="url(#b3)"/><rect x="327.6" y="307.7" width="8.1" height="3.6" rx="1.2" fill="#000" opacity="1" filter="url(#b3)"/>
<rect x="310.9" y="307.8" width="24.2" height="2.2" rx="1.2" fill="#000" opacity="1" filter="url(#b3)"/>
<rect x="344.3" y="308.9" width="7.7" height="3.0" rx="1.2" fill="#1a1a1a" opacity="0.95" filter="url(#b3)"/><rect x="352.6" y="308.9" width="7.7" height="3.0" rx="1.2" fill="#1a1a1a" opacity="0.95" filter="url(#b3)"/><rect x="361.0" y="309.0" width="7.7" height="3.0" rx="1.2" fill="#1a1a1a" opacity="0.95" filter="url(#b3)"/>
<rect x="344.9" y="309.6" width="23.2" height="1.6" rx="1.2" fill="#111" opacity="0.9" filter="url(#b3)"/>
<rect x="310.3" y="337.8" width="8.1" height="3.6" rx="1.2" fill="#000" opacity="1" filter="url(#b3)"/><rect x="319.0" y="338.6" width="8.1" height="3.6" rx="1.2" fill="#000" opacity="1" filter="url(#b3)"/><rect x="327.6" y="339.2" width="8.1" height="3.6" rx="1.2" fill="#000" opacity="1" filter="url(#b3)"/>
<rect x="310.9" y="339.2" width="24.2" height="2.2" rx="1.2" fill="#000" opacity="1" filter="url(#b3)"/>
<rect x="344.3" y="340.8" width="5.6" height="3.0" rx="1.2" fill="#222" opacity="0.95" filter="url(#b3)"/><rect x="350.6" y="340.9" width="5.6" height="3.0" rx="1.2" fill="#222" opacity="0.95" filter="url(#b3)"/><rect x="356.8" y="341.0" width="5.6" height="3.0" rx="1.2" fill="#222" opacity="0.95" filter="url(#b3)"/><rect x="363.1" y="341.1" width="5.6" height="3.0" rx="1.2" fill="#222" opacity="0.95" filter="url(#b3)"/>
<rect x="345.3" y="324.0" width="22.9" height="1.8" rx="1.2" fill="#bbb" opacity="0.45" filter="url(#b3)"/>
<rect x="345.3" y="317.2" width="22.9" height="1.5" rx="1.2" fill="#c4c4c4" opacity="0.3" filter="url(#b3)"/>
<rect x="379.3" y="306.1" width="22.9" height="1.6" rx="1.2" fill="#888" opacity="0.7" filter="url(#b3)"/>
<rect x="387.3" y="305.9" width="7.2" height="2.2" rx="1.2" fill="#444" opacity="0.9" filter="url(#b3)"/><rect x="395.1" y="305.6" width="7.2" height="2.2" rx="1.2" fill="#444" opacity="0.9" filter="url(#b3)"/>
<rect x="396.3" y="305.5" width="5.8" height="2.2" rx="1.2" fill="#333" opacity="0.8" filter="url(#b3)"/>
<rect x="388.3" y="338.4" width="6.4" height="2.4" rx="1.2" fill="#999" opacity="0.8" filter="url(#b3)"/><rect x="395.3" y="338.3" width="6.4" height="2.4" rx="1.2" fill="#999" opacity="0.8" filter="url(#b3)"/>
<text class="lb" x="485" y="247.4">GPIIIa</text>
<text class="lb" x="485" y="289.6">GPVI</text>
<text class="lb" x="484.6" y="335">JAQ1</text>
<text class="ax" font-size="11.5" x="314" y="369">0 h</text>
<text class="ax" font-size="11.5" x="346.8" y="369">3 h</text>
<text class="ax" font-size="11.5" x="379.6" y="369">24 h</text>
<text class="ax" font-size="11.5" x="415.5" y="369">5 d</text>
<text class="ax" font-size="11.5" x="452.2" y="369">0 h</text>
<path d="M312.4 373.9H427.7M442.1 373.9H479" stroke="#000" stroke-width="1.6"/>
<text class="lb" x="343.6" y="388.6">wild-type</text>
<text class="lb" x="445.6" y="388.7">FcR<tspan font-family="Liberation Serif" font-style="italic" font-weight="normal" font-size="12.5">γ</tspan><tspan font-size="8" dy="-4.9">-/-</tspan></text>
</g>
</svg></body></html>
